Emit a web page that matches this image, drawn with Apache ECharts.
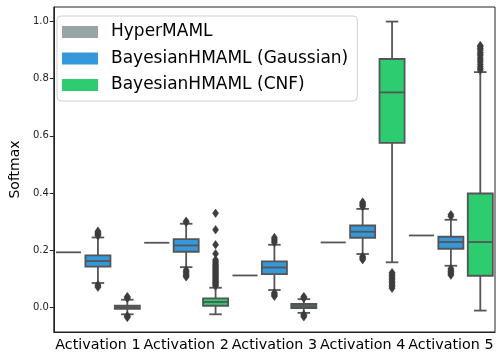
<!DOCTYPE html>
<html>
<head>
<meta charset="utf-8">
<script src="https://cdn.jsdelivr.net/npm/echarts@6/dist/echarts.min.js"></script>
<style>
  html, body { margin: 0; padding: 0; background: #fff; }
  #main { width: 501px; height: 361px; }
</style>
</head>
<body>
<div id="main"></div>
<script>
var categories = ['Activation 1', 'Activation 2', 'Activation 3', 'Activation 4', 'Activation 5'];
var hueNames = ['HyperMAML', 'BayesianHMAML (Gaussian)', 'BayesianHMAML (CNF)'];
var hueColors = ['#95a5a6', '#3498db', '#2ecc71'];
var yTicks = [0.0, 0.2, 0.4, 0.6, 0.8, 1.0];

// [lower whisker, q1, median, q3, upper whisker] per category
var hyperBoxes = [
    [0.192, 0.192, 0.192, 0.192, 0.192],
    [0.2255, 0.2255, 0.2255, 0.2255, 0.2255],
    [0.111, 0.111, 0.111, 0.111, 0.111],
    [0.2266, 0.2266, 0.2266, 0.2266, 0.2266],
    [0.251, 0.251, 0.251, 0.251, 0.251]
];
var gaussBoxes = [
    [0.0846, 0.142, 0.1615, 0.181, 0.244],
    [0.14, 0.194, 0.216, 0.2385, 0.292],
    [0.060, 0.116, 0.139, 0.160, 0.2185],
    [0.186, 0.243, 0.264, 0.286, 0.344],
    [0.145, 0.2045, 0.228, 0.2465, 0.306]
];
var cnfBoxes = [
    [-0.025, -0.006, 0.0, 0.005, 0.026],
    [-0.025, 0.005, 0.018, 0.031, 0.068],
    [-0.02, -0.003, 0.004, 0.011, 0.028],
    [0.157, 0.575, 0.752, 0.869, 1.0],
    [-0.012, 0.110, 0.228, 0.398, 0.823]
];

// outliers per category
var hyperFliers = [[], [], [], [], []];
var gaussFliers = [
    [0.25, 0.254, 0.258, 0.262, 0.266, 0.078, 0.074, 0.07],
    [0.297, 0.301, 0.13, 0.125, 0.12, 0.115, 0.11, 0.106],
    [0.226, 0.232, 0.238, 0.244, 0.05, 0.046, 0.042, 0.038],
    [0.352, 0.356, 0.36, 0.364, 0.368, 0.178, 0.174, 0.17, 0.166],
    [0.318, 0.324, 0.135, 0.13, 0.125, 0.12, 0.116, 0.112]
];
var cnfFliers = [
    [0.031, 0.034, 0.037, -0.03, -0.033, -0.036],
    [0.074, 0.078, 0.082, 0.086, 0.09, 0.094, 0.098, 0.102, 0.106, 0.11, 0.114, 0.118,
     0.122, 0.126, 0.13, 0.134, 0.138, 0.142, 0.146, 0.15, 0.155, 0.16, 0.166,
     0.187, 0.2185, 0.271, 0.329],
    [0.031, 0.034, 0.037, -0.026, -0.03, -0.034],
    [0.121, 0.116, 0.111, 0.106, 0.101, 0.096, 0.091, 0.086, 0.081, 0.076, 0.071, 0.066],
    [0.83, 0.836, 0.842, 0.85, 0.858, 0.865, 0.872, 0.88, 0.886, 0.892, 0.9, 0.906, 0.912, 0.916]
];

var allBoxes = [hyperBoxes, gaussBoxes, cnfBoxes];
var allFliers = [hyperFliers, gaussFliers, cnfFliers];

var lineColor = '#555555';

function boxRenderer(hue) {
    return function (params, api) {
        var cat = api.value(0);
        var band = api.size([1, 0])[0];
        var cx = api.coord([cat, 0])[0] + (hue - 1) * band / 3;
        var half = band * 0.142;
        var yLo = api.coord([cat, api.value(1)])[1];
        var yQ1 = api.coord([cat, api.value(2)])[1];
        var yMed = api.coord([cat, api.value(3)])[1];
        var yQ3 = api.coord([cat, api.value(4)])[1];
        var yHi = api.coord([cat, api.value(5)])[1];
        var ls = { stroke: lineColor, lineWidth: 1.8, fill: null };
        var children = [];
        if (yLo !== yHi) {
            children.push(
                { type: 'line', shape: { x1: cx, y1: yQ3, x2: cx, y2: yHi }, style: ls },
                { type: 'line', shape: { x1: cx, y1: yQ1, x2: cx, y2: yLo }, style: ls },
                { type: 'line', shape: { x1: cx - half / 2, y1: yHi, x2: cx + half / 2, y2: yHi }, style: ls },
                { type: 'line', shape: { x1: cx - half / 2, y1: yLo, x2: cx + half / 2, y2: yLo }, style: ls },
                { type: 'rect', shape: { x: cx - half, y: yQ3, width: half * 2, height: yQ1 - yQ3 },
                  style: { fill: hueColors[hue], stroke: lineColor, lineWidth: 1.8 } }
            );
        }
        children.push({ type: 'line', shape: { x1: cx - half, y1: yMed, x2: cx + half, y2: yMed }, style: ls });
        return { type: 'group', children: children };
    };
}

function flierRenderer(hue) {
    return function (params, api) {
        var cat = api.value(0);
        var band = api.size([1, 0])[0];
        var p = api.coord([cat, api.value(1)]);
        var cx = p[0] + (hue - 1) * band / 3;
        var cy = p[1];
        return {
            type: 'polygon',
            shape: { points: [[cx, cy - 4.2], [cx + 3, cy], [cx, cy + 4.2], [cx - 3, cy]] },
            style: { fill: '#3d3d3d', stroke: '#3d3d3d', lineWidth: 0.6 }
        };
    };
}

var series = [];
for (var h = 0; h < 3; h++) {
    var boxData = allBoxes[h].map(function (b, i) { return [i].concat(b); });
    var flierData = [];
    allFliers[h].forEach(function (vals, i) {
        vals.forEach(function (v) { flierData.push([i, v]); });
    });
    series.push({
        type: 'custom',
        name: hueNames[h],
        itemStyle: { color: hueColors[h] },
        renderItem: boxRenderer(h),
        encode: { x: 0, y: [1, 2, 3, 4, 5] },
        data: boxData,
        z: 2
    });
    series.push({
        type: 'custom',
        name: hueNames[h],
        itemStyle: { color: hueColors[h] },
        renderItem: flierRenderer(h),
        encode: { x: 0, y: 1 },
        data: flierData,
        z: 3
    });
}

var option = {
    animation: false,
    textStyle: { fontFamily: 'DejaVu Sans' },
    grid: { left: 48, right: 6, top: 7, bottom: 29, show: true, borderColor: '#222', borderWidth: 1 },
    legend: {
        orient: 'vertical',
        left: 57,
        top: 16,
        padding: [5, 9, 5, 5],
        itemWidth: 36,
        itemHeight: 12,
        itemGap: 4.5,
        icon: 'rect',
        borderColor: '#d0d0d0',
        borderWidth: 1,
        borderRadius: 4,
        backgroundColor: 'rgba(255,255,255,0.8)',
        textStyle: { fontSize: 17, color: '#000', lineHeight: 22, padding: [0, 0, 0, 8] },
        data: hueNames.map(function (n, i) { return { name: n, itemStyle: { color: hueColors[i] } }; })
    },
    xAxis: {
        type: 'category',
        data: categories,
        boundaryGap: true,
        axisLine: { onZero: false, lineStyle: { color: '#222', width: 1 } },
        axisTick: { alignWithLabel: true, length: 4, lineStyle: { color: '#222' } },
        axisLabel: { interval: 0, fontSize: 14.3, color: '#000', margin: 6 },
        splitLine: { show: false }
    },
    yAxis: {
        type: 'value',
        min: -0.087,
        max: 1.051,
        name: 'Softmax',
        nameLocation: 'middle',
        nameGap: 30,
        nameTextStyle: { fontSize: 14, color: '#000' },
        axisLine: { show: true, onZero: false, lineStyle: { color: '#222', width: 1 } },
        axisTick: { show: true, length: 4, customValues: yTicks, lineStyle: { color: '#222' } },
        axisLabel: {
            fontSize: 10, color: '#222', margin: 5, customValues: yTicks,
            formatter: function (v) { return v.toFixed(1); }
        },
        splitLine: { show: false }
    },
    series: series
};

var chart = echarts.init(document.getElementById('main'));
chart.setOption(option);
</script>
</body>
</html>
